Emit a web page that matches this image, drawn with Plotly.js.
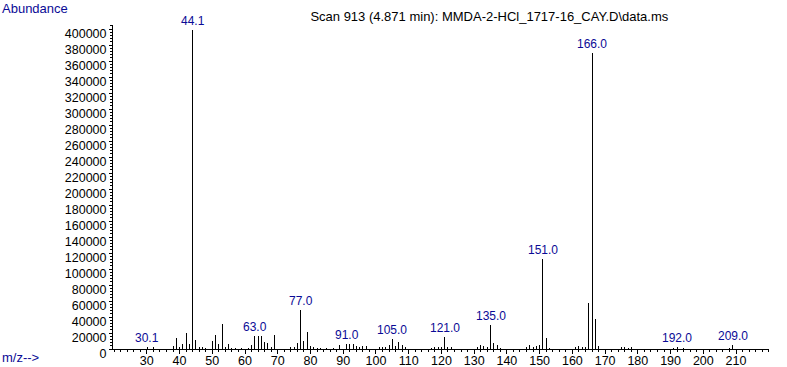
<!DOCTYPE html>
<html>
<head>
<meta charset="utf-8">
<script src="https://cdn.plot.ly/plotly-3.0.1.min.js"></script>
<style>
html,body{margin:0;padding:0;background:#fff;}
#chart{width:787px;height:367px;}
.scatterlayer path.js-line{shape-rendering:crispEdges;}
</style>
</head>
<body>
<div id="chart"></div>
<script>
// m/z values of the peaks
const mz = [30.1, 32, 38, 39, 40, 41, 42, 43, 44.1, 45, 46, 47, 48, 50, 51, 52, 53, 54, 55, 56, 57, 59, 61, 62,
  63.0, 64, 65, 66, 67, 68, 69, 74, 75, 76, 77.0, 78, 79, 80, 81, 82, 83, 85, 87, 89, 91.0, 92, 93, 94, 95, 96, 97,
  101, 102, 103, 104, 105.0, 106, 107, 108, 109, 117, 118, 119, 120, 121.0, 122, 123,
  131, 132, 133, 134, 135.0, 136, 137, 138, 146, 147, 148, 149, 150, 151.0, 152, 153,
  161, 162, 163, 164, 165, 166.0, 167, 168, 175, 176, 177, 178, 191, 192.0, 194, 208, 209.0];
// abundance of each peak
const abundance = [2500, 2000, 4000, 14000, 2500, 6500, 20500, 6500, 399000, 11500, 2500, 2500, 1200, 9500, 18000, 6500, 31800, 3000, 6000, 1500, 1500, 1000, 1500, 4800,
  16500, 16500, 16500, 8750, 7500, 2000, 17700, 2200, 2800, 7000, 48700, 10000, 21500, 3500, 2500, 1500, 1000, 1000, 1500, 5000, 6500, 6000, 6200, 3700, 2500, 3700, 3700,
  2000, 2500, 3000, 5000, 12500, 3500, 8500, 5000, 2500, 1500, 2500, 2500, 3000, 14600, 3000, 2000,
  2000, 5000, 3500, 2500, 29800, 8000, 5000, 1500, 2800, 5000, 2500, 3500, 5200, 112000, 13500, 1000,
  2800, 4000, 2000, 2000, 58000, 369600, 37800, 4000, 2000, 2000, 1200, 2000, 1500, 2500, 1500, 1500, 4500];
// labelled peaks
const labelMz = [30.1, 44.1, 63.0, 77.0, 91.0, 105.0, 121.0, 135.0, 151.0, 166.0, 192.0, 209.0];
// axis tick labels
const xTicks = [30, 40, 50, 60, 70, 80, 90, 100, 110, 120, 130, 140, 150, 160, 170, 180, 190, 200, 210];
const yTicks = [0, 20000, 40000, 60000, 80000, 100000, 120000, 140000, 160000, 180000, 200000, 220000, 240000,
  260000, 280000, 300000, 320000, 340000, 360000, 380000, 400000];

const titleText = 'Scan 913 (4.871 min): MMDA-2-HCl_1717-16_CAY.D\\data.ms';

const xs = [], ys = [];
mz.forEach((m, i) => { xs.push(m, m, null); ys.push(0, abundance[i], null); });

const FONT = 'Liberation Sans, Arial, sans-serif';
const BLUE = '#0a0a96';

const annotations = labelMz.map(m => ({
  x: m, y: abundance[mz.indexOf(m)], text: m.toFixed(1), showarrow: false,
  xanchor: 'center', yanchor: 'bottom', yshift: 0,
  font: {family: FONT, size: 12, color: BLUE}
}));
annotations.push({xref: 'paper', yref: 'paper', x: -113/656, y: (349-8.5)/324, xanchor: 'left', yanchor: 'middle',
  text: 'Abundance', showarrow: false, font: {family: FONT, size: 13, color: BLUE}});
annotations.push({xref: 'paper', yref: 'paper', x: -113/656, y: (349-358)/324, xanchor: 'left', yanchor: 'middle',
  text: 'm/z-->', showarrow: false, font: {family: FONT, size: 13, color: BLUE}});

const trace = {x: xs, y: ys, type: 'scatter', mode: 'lines', line: {color: '#000', width: 1}, hoverinfo: 'skip'};

const layout = {
  width: 787, height: 367,
  margin: {l: 113, r: 18, t: 25, b: 18, pad: 0},
  paper_bgcolor: '#fff', plot_bgcolor: '#fff',
  showlegend: false,
  title: {text: titleText, x: 451.5/787, xanchor: 'center', xref: 'paper', y: 1 - 16/367, yanchor: 'middle', yref: 'container',
    font: {family: FONT, size: 13, color: '#000'}},
  xaxis: {range: [19.67, 220.07], tickmode: 'array', tickvals: xTicks, ticktext: xTicks.map(String),
    ticks: 'outside', ticklen: 4, tickcolor: '#000', tickwidth: 1, ticklabelstandoff: -4,
    minor: {dtick: 2, tick0: 0, ticks: 'outside', ticklen: 2, tickcolor: '#000', showgrid: false},
    showline: true, linecolor: '#000', linewidth: 1, showgrid: false, zeroline: false,
    tickfont: {family: FONT, size: 12.5, color: '#000'}},
  yaxis: {range: [0, 405000], tickmode: 'array', tickvals: yTicks, ticktext: yTicks.map(String),
    ticks: 'outside', ticklen: 3, tickcolor: '#000', tickwidth: 1, ticklabelshift: 5,
    minor: {dtick: 4000, tick0: 0, ticks: 'outside', ticklen: 2, tickcolor: '#000', showgrid: false},
    showline: true, linecolor: '#000', linewidth: 1, showgrid: false, zeroline: false,
    tickfont: {family: FONT, size: 12.5, color: '#000'}},
  annotations: annotations
};

Plotly.newPlot('chart', [trace], layout, {staticPlot: true, displayModeBar: false});
</script>
</body>
</html>
